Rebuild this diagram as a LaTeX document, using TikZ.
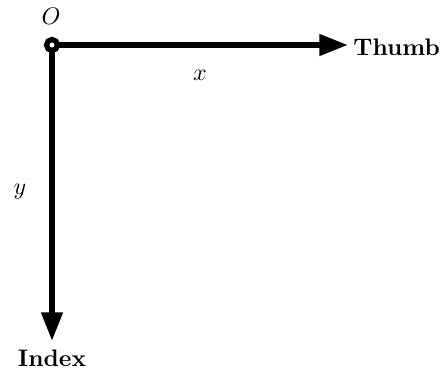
\documentclass[tikz,border=0pt]{standalone}
\usetikzlibrary{arrows.meta}
\begin{document}
\begin{tikzpicture}[x=0.4184pt,y=-0.4184pt,
  axis/.style={line width=2.4pt,-{Triangle[length=12pt,width=8.6pt]}},
  lbl/.style={inner sep=0pt},
  axlbl/.style={inner sep=0pt,font=\bfseries}]
\useasboundingbox (0,0) rectangle (444,369);
\coordinate (o) at (52,45);
\node[axlbl,anchor=west] (thumb) at (353,47) {Thumb};
\node[axlbl,anchor=north] (index) at (52,349) {Index};
\coordinate (xend) at (348,45);
\coordinate (yend) at (52,341);
\draw[axis] (o) -- (xend);
\draw[axis] (o) -- (yend);
\draw[line width=2.2pt,fill=white] (o) circle (2.3pt);
\node[lbl] (olab) at (51,16) {$O$};
\node[lbl] (xlab) at (200,75) {$x$};
\node[lbl] (ylab) at (20,192) {$y$};
\end{tikzpicture}
\end{document}
